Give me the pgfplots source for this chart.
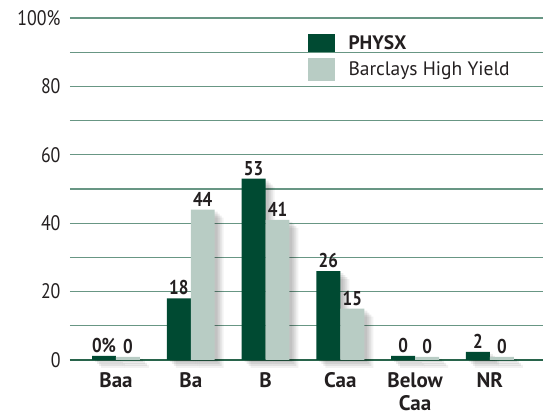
\documentclass[border=0pt]{standalone}
\usepackage{pgfplots}
\pgfplotsset{compat=1.18}
\usepackage{fontspec}
\setmainfont{PT Sans}
\newfontfamily\condfont[FakeStretch=0.85]{PT Sans}
\definecolor{physx}{RGB}{0,74,50}
\definecolor{barc}{RGB}{184,204,196}
\definecolor{gridc}{RGB}{104,150,132}
\definecolor{basec}{RGB}{40,100,75}
\definecolor{txt}{RGB}{35,31,32}
\tikzset{softshadow/.style={
  preaction={fill=black, fill opacity=0.07, transform canvas={xshift=3bp,yshift=-2bp}},
  preaction={fill=black, fill opacity=0.07, transform canvas={xshift=5bp,yshift=-4bp}},
  preaction={fill=black, fill opacity=0.07, transform canvas={xshift=7bp,yshift=-6bp}},
  preaction={fill=black, fill opacity=0.05, transform canvas={xshift=9bp,yshift=-8bp}}}}
\begin{document}
\begin{tikzpicture}
\begin{axis}[
  name=a,
  ybar=0pt,
  scale only axis, width=473bp, height=342bp,
  xmin=-0.615, xmax=5.71, ymin=0, ymax=100,
  axis x line*=bottom, axis y line*=left,
  y axis line style={draw=none},
  x axis line style={draw=basec, line width=1.6bp},
  xtick={0,1,2,3,4,5},
  xticklabels={Baa,Ba,B,Caa,Below\\Caa,NR},
  xtick style={draw=none},
  xticklabel style={font=\fontsize{21bp}{23bp}\selectfont\bfseries, text=txt, align=center, yshift=-9bp},
  ytick={0,20,40,60,80,100},
  yticklabels={0,20,40,60,80,100\%},
  minor ytick={10,30,50,70,90},
  ytick style={draw=none},
  minor tick length=0pt, major tick length=0pt,
  yticklabel style={font=\condfont\fontsize{21bp}{22bp}\selectfont, text=txt, xshift=-6bp},
  ymajorgrids, yminorgrids,
  major grid style={draw=gridc, line width=1.1bp},
  minor grid style={draw=gridc, line width=1.1bp},
  clip=false,
  bar width=0.32,
  point meta=explicit symbolic,
  nodes near coords,
  every node near coord/.append style={font=\condfont\fontsize{20bp}{20bp}\selectfont\bfseries, text=txt, anchor=south, inner sep=3bp},
  legend style={at={(0.503,0.956)}, anchor=north west, draw=none, fill=none, inner sep=0pt, row sep=5bp,
     font=\fontsize{19.5bp}{20bp}\selectfont, text=txt, cells={anchor=west}},
  legend cell align=left,
]
\addplot[fill=physx, draw=none, bar shift=-0.16, forget plot, softshadow]
  coordinates {(0,1.2) [0\%] (1,18) [18] (2,53) [53] (3,26) [26] (4,1.2) [0] (5,2.4) [2]};
\addplot[fill=barc, draw=none, bar shift=0.16, forget plot, softshadow]
  coordinates {(0,0.9) [0] (1,44) [44] (2,41) [41] (3,15) [15] (4,0.9) [0] (5,0.9) [0]};
\addlegendimage{legend image code/.code={\fill[physx] (0bp,-8.5bp) rectangle (26bp,8.5bp);}}
\addlegendentry{\hspace{12bp}\bfseries PHYSX}
\addlegendimage{legend image code/.code={\fill[barc] (0bp,-11bp) rectangle (26bp,11bp);}}
\addlegendentry{\hspace{12bp}Barclays High Yield}
\end{axis}
\pgfresetboundingbox
\path[use as bounding box] ([xshift=-70bp,yshift=-57bp]a.south west) rectangle ([yshift=18bp]a.north east);
\end{tikzpicture}
\end{document}
